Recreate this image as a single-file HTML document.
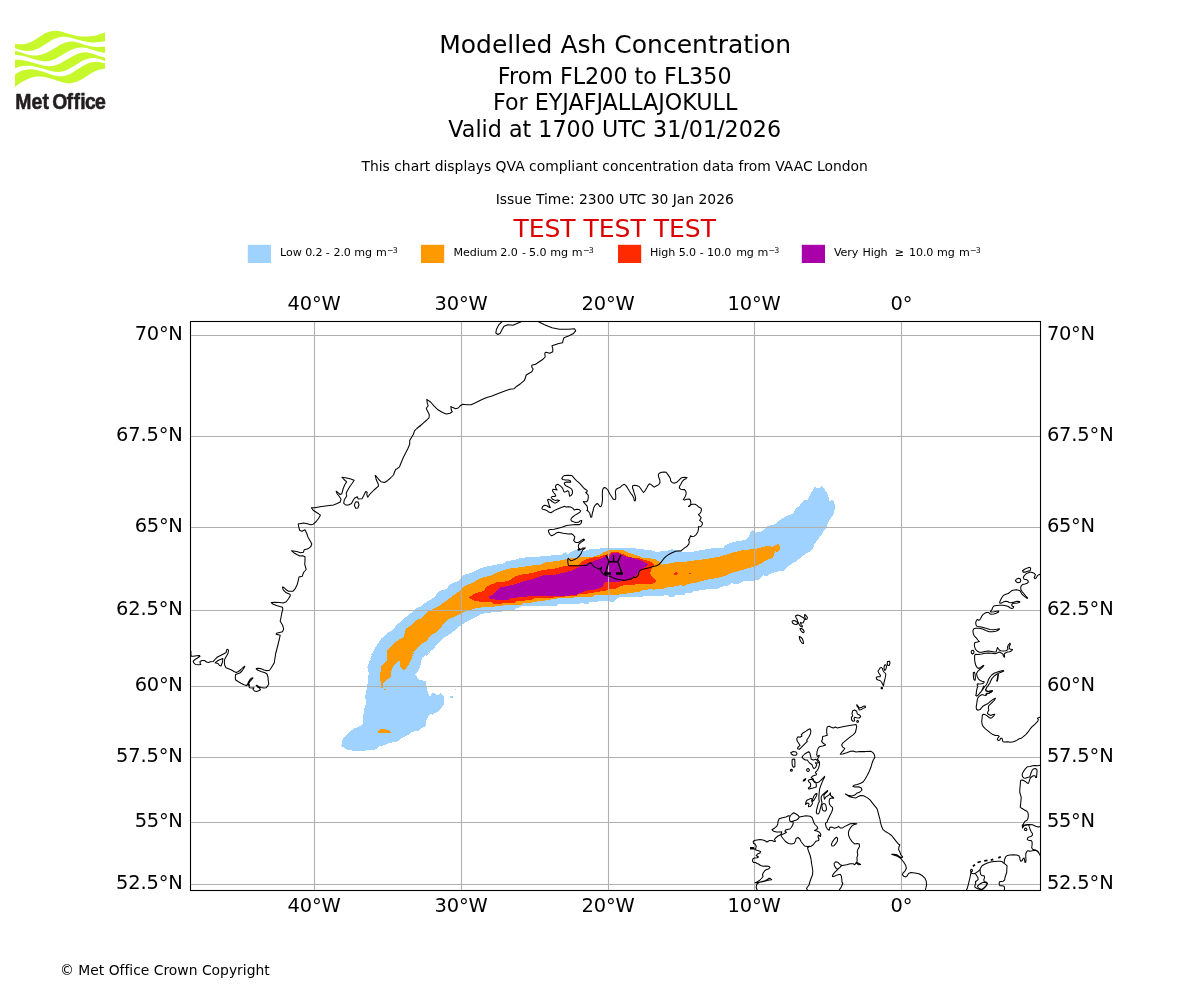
<!DOCTYPE html>
<html lang="en">
<head>
<meta charset="utf-8">
<title>Modelled Ash Concentration</title>
<style>
html,body{margin:0;padding:0;background:#fff;}
body{width:1200px;height:1000px;overflow:hidden;}
svg{display:block;}
text{font-family:"DejaVu Sans","Liberation Sans",sans-serif;fill:#000;font-variant-ligatures:none;}
.t18{font-size:25px;}
.t16{font-size:22.22px;}
.t10{font-size:13.89px;}
.t14{font-size:19.44px;letter-spacing:-0.17px;}
.t8{font-size:11.11px;letter-spacing:-0.12px;}
.sup{font-size:7.9px;letter-spacing:-0.9px;}
.grid line{stroke:#b0b0b0;stroke-width:1.1;}
.coast path{fill:none;stroke:#000;stroke-width:1.05;stroke-linejoin:round;stroke-linecap:butt;}
</style>
</head>
<body>
<svg width="1200" height="1000" viewBox="0 0 1200 1000">
<rect x="0" y="0" width="1200" height="1000" fill="#ffffff"/>
<g id="logo">
<path fill="#c6f82c" d="M15.00,44.00C16.67,44.00 22.00,44.50 25.00,44.00C28.00,43.50 30.50,42.25 33.00,41.00C35.50,39.75 37.67,37.92 40.00,36.50C42.33,35.08 44.50,33.45 47.00,32.50C49.50,31.55 52.67,30.97 55.00,30.80C57.33,30.63 58.67,30.97 61.00,31.50C63.33,32.03 66.33,33.25 69.00,34.00C71.67,34.75 74.33,35.58 77.00,36.00C79.67,36.42 82.33,36.50 85.00,36.50C87.67,36.50 90.50,36.38 93.00,36.00C95.50,35.62 98.00,34.78 100.00,34.20C102.00,33.62 104.17,32.78 105.00,32.50L105.00,41.30C104.00,41.42 101.00,41.80 99.00,42.00C97.00,42.20 95.33,42.58 93.00,42.50C90.67,42.42 87.67,42.00 85.00,41.50C82.33,41.00 79.50,40.17 77.00,39.50C74.50,38.83 72.17,37.95 70.00,37.50C67.83,37.05 66.00,36.80 64.00,36.80C62.00,36.80 60.00,36.97 58.00,37.50C56.00,38.03 54.17,38.83 52.00,40.00C49.83,41.17 47.33,43.08 45.00,44.50C42.67,45.92 40.17,47.50 38.00,48.50C35.83,49.50 34.17,50.12 32.00,50.50C29.83,50.88 27.17,50.97 25.00,50.80C22.83,50.63 20.67,49.97 19.00,49.50C17.33,49.03 15.67,48.25 15.00,48.00Z"/>
<path fill="#c6f82c" d="M15.00,50.80C16.00,51.08 19.00,51.88 21.00,52.50C23.00,53.12 24.83,54.00 27.00,54.50C29.17,55.00 31.83,55.42 34.00,55.50C36.17,55.58 37.83,55.50 40.00,55.00C42.17,54.50 44.50,53.67 47.00,52.50C49.50,51.33 52.50,49.42 55.00,48.00C57.50,46.58 59.67,45.03 62.00,44.00C64.33,42.97 66.83,42.17 69.00,41.80C71.17,41.43 72.83,41.43 75.00,41.80C77.17,42.17 79.50,43.27 82.00,44.00C84.50,44.73 87.50,45.70 90.00,46.20C92.50,46.70 94.50,46.90 97.00,47.00C99.50,47.10 103.67,46.83 105.00,46.80L105.00,53.00C104.00,52.80 101.00,52.30 99.00,51.80C97.00,51.30 95.00,50.63 93.00,50.00C91.00,49.37 89.00,48.42 87.00,48.00C85.00,47.58 83.00,47.42 81.00,47.50C79.00,47.58 77.00,47.92 75.00,48.50C73.00,49.08 71.17,49.92 69.00,51.00C66.83,52.08 64.33,53.67 62.00,55.00C59.67,56.33 57.17,58.00 55.00,59.00C52.83,60.00 51.00,60.63 49.00,61.00C47.00,61.37 45.00,61.37 43.00,61.20C41.00,61.03 39.17,60.53 37.00,60.00C34.83,59.47 32.33,58.70 30.00,58.00C27.67,57.30 25.50,56.30 23.00,55.80C20.50,55.30 16.33,55.13 15.00,55.00Z"/>
<path fill="#c6f82c" d="M15.00,59.80C16.00,59.83 19.00,59.80 21.00,60.00C23.00,60.20 24.83,60.50 27.00,61.00C29.17,61.50 31.67,62.33 34.00,63.00C36.33,63.67 38.67,64.47 41.00,65.00C43.33,65.53 45.83,66.07 48.00,66.20C50.17,66.33 52.00,66.25 54.00,65.80C56.00,65.35 57.83,64.55 60.00,63.50C62.17,62.45 64.67,60.83 67.00,59.50C69.33,58.17 71.83,56.58 74.00,55.50C76.17,54.42 78.00,53.55 80.00,53.00C82.00,52.45 84.00,52.12 86.00,52.20C88.00,52.28 89.83,52.87 92.00,53.50C94.17,54.13 96.83,55.33 99.00,56.00C101.17,56.67 104.00,57.25 105.00,57.50L105.00,61.00C104.17,60.70 101.67,59.70 100.00,59.20C98.33,58.70 96.67,58.17 95.00,58.00C93.33,57.83 91.83,57.87 90.00,58.20C88.17,58.53 86.00,59.12 84.00,60.00C82.00,60.88 80.17,62.20 78.00,63.50C75.83,64.80 73.17,66.58 71.00,67.80C68.83,69.02 67.00,70.10 65.00,70.80C63.00,71.50 61.00,71.88 59.00,72.00C57.00,72.12 55.00,71.83 53.00,71.50C51.00,71.17 49.17,70.62 47.00,70.00C44.83,69.38 42.33,68.43 40.00,67.80C37.67,67.17 35.33,66.53 33.00,66.20C30.67,65.87 28.17,65.75 26.00,65.80C23.83,65.85 21.83,66.05 20.00,66.50C18.17,66.95 15.83,68.17 15.00,68.50Z"/>
<path fill="#c6f82c" d="M15.00,74.50C15.83,74.00 18.33,72.25 20.00,71.50C21.67,70.75 23.17,70.37 25.00,70.00C26.83,69.63 29.00,69.30 31.00,69.30C33.00,69.30 34.83,69.55 37.00,70.00C39.17,70.45 41.67,71.25 44.00,72.00C46.33,72.75 48.83,73.83 51.00,74.50C53.17,75.17 55.00,75.72 57.00,76.00C59.00,76.28 61.00,76.45 63.00,76.20C65.00,75.95 67.00,75.37 69.00,74.50C71.00,73.63 72.83,72.33 75.00,71.00C77.17,69.67 79.67,67.83 82.00,66.50C84.33,65.17 86.83,63.75 89.00,63.00C91.17,62.25 93.17,62.13 95.00,62.00C96.83,61.87 98.33,62.03 100.00,62.20C101.67,62.37 104.17,62.87 105.00,63.00L105.00,68.80C104.17,68.92 101.67,69.10 100.00,69.50C98.33,69.90 96.67,70.45 95.00,71.20C93.33,71.95 91.83,72.87 90.00,74.00C88.17,75.13 86.00,76.80 84.00,78.00C82.00,79.20 80.00,80.37 78.00,81.20C76.00,82.03 74.00,82.70 72.00,83.00C70.00,83.30 68.00,83.25 66.00,83.00C64.00,82.75 62.17,82.13 60.00,81.50C57.83,80.87 55.33,79.92 53.00,79.20C50.67,78.48 48.17,77.65 46.00,77.20C43.83,76.75 42.00,76.53 40.00,76.50C38.00,76.47 36.00,76.58 34.00,77.00C32.00,77.42 30.00,78.17 28.00,79.00C26.00,79.83 23.67,81.08 22.00,82.00C20.33,82.92 19.17,83.67 18.00,84.50C16.83,85.33 15.50,86.58 15.00,87.00Z"/>
<text transform="translate(0.0,108.75) scale(0.9,1)" x="16.89 35.05 47.13 55.13 58.17 73.98 81.64 89.12 94.55 105.50" y="0" style="font-family:'Liberation Sans','DejaVu Sans',sans-serif;font-weight:bold;font-size:21.6px;fill:#231f20;stroke:#231f20;stroke-width:0.55px;stroke-linejoin:round">Met Office</text>
</g>
<g text-anchor="middle">
<text class="t18" x="615.2" y="53.3">Modelled Ash Concentration</text>
<text class="t16" x="614.7" y="83.8">From FL200 to FL350</text>
<text class="t16" x="615.1" y="110">For EYJAFJALLAJOKULL</text>
<text class="t16" x="614.7" y="136.6">Valid at 1700 UTC 31/01/2026</text>
<text class="t10" x="614.7" y="170.9">This chart displays QVA compliant concentration data from VAAC London</text>
<text class="t10" x="614.75" y="204">Issue Time: 2300 UTC 30 Jan 2026</text>
<text class="t18" x="614.65" y="236.8" style="fill:#dc0000">TEST TEST TEST</text>
</g>
<g>
<rect x="247.8" y="244.8" width="23.2" height="18.2" fill="#a0d2ff"/>
<text class="t8" style="white-space:pre"><tspan x="280.1" y="256.2">Low </tspan><tspan x="305.16" y="256.2">0.2 </tspan><tspan x="325.71" y="256.2">- </tspan><tspan x="333.5" y="256.2">2.0 </tspan><tspan x="354.25" y="256.2">mg </tspan><tspan x="375.96" y="256.2">m</tspan><tspan class="sup" x="387.0" y="252.9">−3</tspan></text>
<rect x="421.0" y="244.8" width="23.2" height="18.2" fill="#ff9900"/>
<text class="t8" style="white-space:pre"><tspan x="453.6" y="256.2">Medium </tspan><tspan x="500.36" y="256.2">2.0 </tspan><tspan x="521.96" y="256.2">- </tspan><tspan x="529.1" y="256.2">5.0 </tspan><tspan x="550.3" y="256.2">mg </tspan><tspan x="571.7" y="256.2">m</tspan><tspan class="sup" x="583.1" y="252.9">−3</tspan></text>
<rect x="618.0" y="244.8" width="23.2" height="18.2" fill="#ff2a00"/>
<text class="t8" style="white-space:pre"><tspan x="650.1" y="256.2">High </tspan><tspan x="678.67" y="256.2">5.0 </tspan><tspan x="699.87" y="256.2">- </tspan><tspan x="707.01" y="256.2">10.0 </tspan><tspan x="736.18" y="256.2">mg </tspan><tspan x="757.58" y="256.2">m</tspan><tspan class="sup" x="768.6" y="252.9">−3</tspan></text>
<rect x="801.8" y="244.8" width="23.2" height="18.2" fill="#aa00aa"/>
<text class="t8" style="white-space:pre"><tspan x="834.0" y="256.2">Very </tspan><tspan x="862.45" y="256.2">High </tspan><tspan x="894.81" y="256.2">≥ </tspan><tspan x="909.05" y="256.2">10.0 </tspan><tspan x="937.12" y="256.2">mg </tspan><tspan x="958.93" y="256.2">m</tspan><tspan class="sup" x="970.1" y="252.9">−3</tspan></text>
</g>
<defs><clipPath id="mapclip"><rect x="190.5" y="321.5" width="850.0" height="569.0"/></clipPath></defs>
<g clip-path="url(#mapclip)">
<g shape-rendering="crispEdges">
<path fill="#a0d2ff" d="M370.4,660.0 372.4,653.3 374.7,648.7 378.0,643.3 381.3,638.7 384.9,635.3 388.7,632.0 392.0,630.4 395.3,626.7 399.3,622.7 404.0,618.7 408.7,614.7 412.7,612.0 415.3,608.7 422.0,606.0 425.3,602.7 430.0,600.0 435.3,596.7 436.7,594.0 440.7,590.4 446.0,589.3 450.0,584.7 454.0,582.4 458.7,581.1 462.0,577.3 463.3,574.9 470.0,573.3 475.3,570.9 480.7,568.0 486.0,566.7 490.0,566.0 494.7,564.9 504.0,563.3 506.0,561.3 514.7,560.0 520.0,558.3 526.7,557.3 537.3,556.7 546.7,556.0 554.7,555.1 561.3,554.7 565.3,552.0 568.0,554.0 572.0,551.3 576.0,549.7 582.5,550.8 587.5,550.4 590.0,549.2 599.2,548.8 600.8,547.9 635.0,548.1 636.7,549.2 643.3,549.3 645.0,550.4 651.7,550.4 653.3,551.2 656.7,551.7 658.3,552.5 660.8,551.2 667.5,550.8 670.0,549.6 672.5,549.2 674.2,550.0 680.0,550.4 681.3,552.0 690.7,552.0 706.0,549.3 712.7,548.3 723.3,548.0 725.3,545.3 732.7,542.0 740.7,540.7 746.0,540.0 748.7,536.7 750.7,532.0 752.7,529.3 754.7,532.7 762.0,531.3 764.0,529.3 766.0,526.7 775.3,524.0 778.0,521.3 782.0,518.7 788.7,515.3 793.3,513.3 795.3,509.3 799.3,506.0 803.3,500.7 808.0,499.7 810.0,494.7 812.7,490.7 814.7,486.9 818.0,488.7 822.0,486.0 824.7,489.3 827.3,493.3 828.7,497.3 829.3,500.7 833.3,500.3 834.7,504.0 834.7,509.3 833.3,514.7 830.0,519.3 827.3,524.7 826.0,528.0 823.3,531.3 821.3,535.3 818.0,539.3 814.7,544.0 813.3,547.3 811.3,550.7 807.3,552.7 803.3,555.3 799.3,558.7 796.7,561.3 791.3,564.0 787.3,567.3 783.3,570.7 775.3,572.0 770.0,574.0 767.3,576.7 763.3,575.3 759.3,579.3 754.0,580.7 743.3,581.1 738.0,584.0 731.3,583.3 728.7,585.3 722.0,586.7 718.0,588.7 707.3,589.3 693.3,591.3 692.0,592.7 685.3,593.3 684.0,595.3 680.0,595.0 675.0,595.4 674.2,596.7 669.2,596.7 668.3,595.4 664.2,595.4 663.3,596.2 643.3,596.2 641.7,597.3 619.2,597.5 616.7,598.3 613.8,601.7 610.8,601.7 607.5,600.7 599.2,600.8 596.7,602.3 589.2,602.5 588.3,603.8 585.8,603.8 582.5,603.3 580.0,603.0 579.0,604.0 558.0,604.5 557.0,605.5 522.0,605.8 521.0,607.0 516.0,608.5 515.0,609.8 509.0,610.0 508.0,611.0 502.0,611.2 501.0,612.2 491.0,612.5 490.0,612.7 484.7,613.3 480.7,614.4 475.3,617.3 470.0,620.0 464.7,622.7 460.0,626.0 455.3,630.0 451.3,633.3 447.3,635.7 443.3,638.0 439.3,642.0 435.3,646.7 431.3,651.3 426.7,653.3 426.0,656.0 422.0,660.0 432.0,650.0 428.7,652.0 426.0,654.0 423.3,657.3 421.3,660.0 420.9,663.3 419.3,668.7 417.3,672.0 414.9,674.7 416.7,676.7 418.7,679.6 422.7,680.4 426.0,681.3 426.7,688.7 428.0,692.0 428.7,695.3 430.7,696.0 432.0,693.3 434.0,692.9 436.0,694.7 438.7,695.1 440.7,692.9 442.0,694.0 444.0,696.7 443.6,704.7 441.3,708.0 438.7,711.3 435.3,712.9 432.7,714.7 430.0,714.0 428.0,717.3 426.3,720.7 425.7,726.0 422.0,728.0 419.3,730.4 415.3,731.1 411.3,732.4 408.7,734.7 404.7,736.9 400.7,738.7 398.0,741.3 393.3,742.3 388.7,743.3 384.7,745.3 379.3,746.0 376.0,749.3 370.0,750.3 362.0,750.7 353.3,750.7 347.3,749.7 344.7,748.0 341.3,746.3 342.0,743.3 342.7,739.1 346.0,735.3 350.7,731.1 354.0,728.7 357.3,727.3 360.7,726.0 363.1,722.7 363.3,715.3 364.4,708.7 366.0,703.3 365.3,696.7 366.7,688.7 368.0,680.7 368.7,672.7 367.3,667.3 368.7,663.3 370.0,659.3 372.0,652.7 372.7,650.0ZM450.0,696.0 452.9,696.0 452.9,697.7 450.0,697.7ZM454.9,688.9 456.0,688.9 456.0,690.0 454.9,690.0Z"/>
<path fill="#ff9900" d="M387.1,660.0 387.3,650.0 391.3,646.0 396.7,641.1 403.3,637.3 404.4,634.0 406.0,628.7 410.0,626.0 414.0,622.0 417.3,619.7 422.0,618.0 424.0,615.3 428.7,611.3 432.7,609.3 438.0,606.7 443.3,602.7 447.3,600.0 452.7,596.0 458.0,592.0 462.0,588.0 466.0,585.3 472.7,582.9 478.0,579.3 483.3,577.3 490.0,576.0 496.0,572.7 502.7,570.7 508.0,568.7 520.0,567.3 529.3,565.7 540.0,564.9 544.0,562.7 554.7,561.3 562.7,560.0 568.0,558.7 583.3,557.1 592.5,557.1 595.0,555.8 599.2,555.0 604.2,552.1 607.5,550.8 611.7,550.0 622.5,550.0 625.0,551.2 629.2,552.9 633.3,554.3 638.3,555.8 641.7,557.5 648.3,557.7 651.7,558.8 655.0,559.2 658.3,561.2 660.0,562.9 662.1,564.6 666.7,564.2 671.7,562.9 676.7,562.1 680.0,561.7 681.3,562.4 689.3,561.1 703.3,559.3 716.7,557.3 726.0,554.7 732.7,552.7 743.3,550.0 754.0,549.1 762.0,547.3 767.3,546.0 772.7,546.7 776.7,544.7 778.7,544.0 780.0,546.7 779.6,550.0 778.0,552.0 775.3,551.3 774.0,554.7 773.3,557.3 768.7,559.3 764.7,561.3 759.3,564.3 754.0,566.7 743.3,569.6 735.3,572.0 730.0,573.3 727.3,575.3 716.7,578.0 708.7,579.3 703.3,580.7 696.0,582.7 688.0,584.0 684.0,586.0 680.0,585.0 677.5,586.2 667.5,587.1 666.7,588.3 660.0,588.8 653.3,589.8 651.7,589.2 642.5,590.0 640.0,591.7 635.0,592.1 632.5,593.3 620.0,593.8 619.2,594.6 607.5,594.8 595.0,595.0 593.3,596.7 582.5,596.7 578.0,597.2 570.0,597.9 563.0,598.2 557.0,598.5 550.0,599.7 545.0,600.2 544.0,601.2 533.0,601.7 532.0,602.7 523.0,603.2 522.0,604.7 504.0,605.2 503.0,605.7 490.0,607.1 483.3,607.3 476.7,608.0 471.3,609.6 466.0,611.3 462.0,612.7 456.7,616.0 451.3,618.0 447.3,620.0 443.3,624.0 440.7,628.0 436.7,632.0 431.3,634.7 429.3,637.3 426.0,641.6 421.3,644.0 418.0,647.3 414.0,651.3 412.0,655.3 411.1,660.0 414.9,650.0 412.9,654.0 411.6,658.0 410.0,662.7 406.7,667.3 404.3,670.0 402.0,668.9 400.3,667.3 400.0,661.7 398.7,660.9 396.4,663.3 393.3,666.7 391.6,670.0 391.1,676.0 388.7,678.7 386.0,680.4 383.1,683.3 382.8,688.0 381.2,688.0 381.2,683.3 380.1,679.3 380.4,672.7 381.3,666.3 385.3,662.7 387.1,660.7 387.3,650.0ZM378.0,732.7 378.3,731.3 380.7,729.3 385.3,729.1 387.3,730.0 390.0,730.7 391.1,732.7ZM384.0,688.9 386.0,688.9 386.0,690.0 384.0,690.0Z"/>
<path fill="#ff2a00" d="M468.7,597.6 472.7,594.7 476.7,592.7 483.3,591.3 487.3,586.0 490.7,584.7 497.3,582.0 508.0,581.3 512.0,578.7 516.0,576.0 522.7,574.3 530.7,573.3 542.7,570.0 554.7,568.7 565.3,566.0 578.7,564.7 584.2,560.0 592.5,557.5 599.2,556.8 605.0,555.0 609.2,553.8 611.7,552.1 616.7,551.7 620.0,552.9 624.2,554.6 626.7,556.2 631.7,557.5 638.3,557.9 643.3,559.6 649.2,561.2 652.5,562.9 654.6,564.6 652.5,567.5 650.8,570.8 650.0,573.8 652.5,576.7 655.0,579.2 656.7,580.8 655.0,582.9 652.5,583.8 638.3,583.8 633.3,585.0 623.3,585.4 620.0,586.2 617.5,588.3 608.3,589.6 605.0,591.2 596.7,591.7 593.3,592.9 585.0,593.8 578.0,594.5 577.0,595.5 569.0,596.2 557.0,597.2 550.0,598.0 534.0,598.5 532.0,599.8 525.0,600.0 524.0,601.2 516.0,601.5 515.0,602.5 503.0,603.0 502.0,603.5 493.0,603.5 492.0,602.0 479.3,601.6 473.3,600.3ZM674.2,573.8 674.7,572.5 675.8,572.0 677.1,572.5 677.7,573.8 677.1,575.0 675.8,575.5 674.7,575.0ZM689.0,573.0 691.0,573.0 691.0,574.0 689.0,574.0Z"/>
<path fill="#aa00aa" d="M488.3,597.3 493.3,594.0 496.7,590.7 500.0,587.6 513.3,584.7 524.0,581.3 536.0,578.0 544.0,575.3 554.7,574.7 565.3,572.4 573.3,570.0 585.0,564.2 588.3,562.9 592.5,561.7 596.7,560.0 600.0,558.8 604.2,557.1 605.8,555.8 609.2,556.2 610.8,554.6 613.3,552.9 616.7,552.5 619.2,553.8 621.7,555.0 625.0,556.2 628.3,557.1 633.3,557.9 638.3,559.6 642.5,561.2 645.8,562.9 647.9,564.3 646.7,566.0 643.3,567.9 640.0,570.0 638.3,573.3 636.7,575.4 633.3,576.7 630.8,578.3 627.5,580.4 623.3,580.8 619.2,581.7 605.8,581.8 604.2,583.8 602.5,586.7 599.2,588.3 595.0,589.6 587.5,590.4 583.3,591.7 576.0,595.0 569.0,595.6 550.0,596.2 527.0,596.2 526.0,597.0 517.0,597.2 516.0,598.2 510.0,598.5 509.0,599.5 495.0,599.5 491.0,599.0Z"/>
</g>
<g class="grid">
<line x1="314.5" y1="321.5" x2="314.5" y2="890.5"/>
<line x1="461.5" y1="321.5" x2="461.5" y2="890.5"/>
<line x1="608.5" y1="321.5" x2="608.5" y2="890.5"/>
<line x1="754.5" y1="321.5" x2="754.5" y2="890.5"/>
<line x1="901.5" y1="321.5" x2="901.5" y2="890.5"/>
<line x1="190.5" y1="335.5" x2="1040.5" y2="335.5"/>
<line x1="190.5" y1="436.5" x2="1040.5" y2="436.5"/>
<line x1="190.5" y1="527.5" x2="1040.5" y2="527.5"/>
<line x1="190.5" y1="610.5" x2="1040.5" y2="610.5"/>
<line x1="190.5" y1="686.5" x2="1040.5" y2="686.5"/>
<line x1="190.5" y1="757.5" x2="1040.5" y2="757.5"/>
<line x1="190.5" y1="822.5" x2="1040.5" y2="822.5"/>
<line x1="190.5" y1="884.5" x2="1040.5" y2="884.5"/>
</g>
<g class="coast">
<path d="M574.2,539.6 574.8,536.8 573.3,535.0 571.7,533.8 568.3,534.0 563.3,533.3 558.3,532.3 555.8,533.3 553.8,534.8 551.7,535.8 550.0,534.6 548.8,532.5 548.3,530.4 550.0,529.6 554.2,529.2 558.3,528.2 562.5,527.1 566.7,525.4 570.8,525.0 575.8,524.6 579.2,524.6 580.8,523.8 581.5,522.1 581.7,520.4 580.0,521.0 578.3,522.3 575.8,522.5 573.3,521.7 571.2,520.7 570.8,519.2 572.1,517.5 574.6,515.4 577.5,513.8 580.0,512.1 580.7,510.8 579.2,509.6 576.7,509.2 574.2,510.0 572.9,508.3 570.8,507.1 568.3,506.7 566.2,507.1 564.6,506.2 562.5,507.1 560.0,507.9 557.1,509.2 554.6,510.4 552.5,511.7 550.8,512.7 548.8,512.1 546.7,510.4 544.2,509.6 542.5,509.2 541.8,508.3 542.9,506.2 544.6,505.2 546.2,505.4 547.5,506.2 549.6,507.5 550.4,507.7 549.3,505.8 548.8,503.8 548.2,501.7 547.5,500.0 548.3,499.2 550.4,500.0 552.1,501.5 554.2,502.9 555.8,502.9 557.9,501.7 559.6,500.4 557.5,500.0 555.0,500.4 552.5,499.2 551.2,497.5 552.1,496.5 554.2,496.5 555.8,496.0 555.0,494.2 553.5,492.5 552.5,490.8 552.9,489.3 555.0,489.6 557.1,490.0 556.0,488.3 555.4,486.7 556.2,485.0 557.7,484.3 559.6,485.4 561.7,487.1 562.9,488.8 563.5,490.8 564.2,492.1 565.8,491.7 567.5,490.7 568.8,491.7 569.2,493.8 569.6,496.2 571.2,495.4 572.3,493.8 572.5,491.2 571.7,489.2 570.0,487.9 567.9,486.8 565.8,485.7 564.6,484.3 564.3,482.9 565.8,482.1 568.3,482.1 570.8,482.1 570.4,480.8 568.3,480.0 565.4,480.0 562.9,479.6 561.7,478.5 562.9,476.7 564.6,475.4 567.9,475.2 571.7,475.4 573.3,477.1 575.0,479.2 576.7,480.8 578.3,482.1 580.4,484.2 582.5,486.7 584.6,488.8 587.1,490.4 587.1,491.7 585.7,492.5 587.1,493.8 588.3,495.4 588.3,497.9 587.7,500.4 586.8,501.7 585.0,501.7 583.3,501.5 584.2,502.9 585.8,504.6 587.1,506.2 587.5,507.9 587.5,510.0 586.7,510.4 588.3,511.2 589.8,513.3 590.4,515.8 590.8,517.3 591.7,517.1 592.1,514.6 592.5,512.5 593.3,510.0 593.8,507.5 595.0,505.4 597.1,503.5 598.3,504.2 599.6,506.2 600.8,506.7 601.7,505.0 602.3,501.7 602.5,498.3 602.3,494.2 602.5,490.4 603.3,488.3 604.6,487.5 606.2,488.3 607.9,490.0 608.8,492.1 610.0,494.2 611.7,496.7 613.3,499.2 615.0,499.6 615.8,498.3 615.7,495.0 615.4,491.7 616.2,489.2 617.9,488.2 620.0,487.5 622.1,485.4 624.3,484.3 625.8,485.4 627.5,487.9 629.2,490.8 630.8,493.3 632.5,495.4 633.8,497.9 634.2,500.4 635.0,501.0 635.7,499.2 635.4,496.7 634.3,493.3 633.3,490.0 632.5,487.5 632.7,485.7 634.6,485.2 637.1,485.7 639.2,486.5 640.8,488.8 642.5,491.2 643.5,492.5 645.0,490.8 646.7,487.9 648.3,485.0 649.6,483.8 651.2,484.6 652.9,486.2 654.2,487.1 656.2,486.0 658.8,484.6 660.0,482.5 659.8,480.0 658.8,477.5 658.3,475.0 659.2,473.3 661.7,472.3 664.2,472.1 666.2,472.3 667.9,474.6 669.6,477.1 670.4,478.8 670.7,480.8 672.1,482.5 674.2,483.3 676.7,482.3 678.8,480.4 680.8,478.3 682.5,477.5 685.0,477.3 687.1,477.7 685.8,478.8 683.8,479.8 682.1,481.7 680.8,484.2 679.6,486.2 679.3,487.9 680.8,489.3 682.9,489.6 684.6,489.6 685.8,491.2 686.2,493.8 685.4,496.2 684.2,498.3 683.3,499.6 684.6,500.0 686.7,499.3 689.2,499.0 690.4,500.0 690.8,502.1 690.7,504.6 689.6,506.2 688.5,506.5 690.4,504.8 692.5,504.2 695.0,504.3 697.1,505.4 698.8,507.1 700.7,507.9 701.5,509.2 701.0,511.7 700.0,513.3 698.5,514.6 699.6,515.8 701.2,517.5 700.4,519.2 699.6,520.4 701.2,521.7 702.5,522.9 702.1,525.0 700.8,526.5 698.3,526.8 698.5,528.8 697.9,531.7 696.2,534.6 694.2,536.2 691.7,536.5 690.4,535.8 690.0,537.5 689.2,539.2 688.5,539.6 689.3,541.8 688.8,544.2 687.1,546.2 684.6,547.9 682.5,549.6 680.8,551.0 678.3,551.0 675.8,551.2 672.5,552.5 669.2,554.2 665.8,556.7 663.3,559.2 661.2,562.1 659.2,564.2 656.7,565.7 653.3,566.5 649.2,567.7 645.0,568.8 641.7,569.6 639.6,570.8 638.8,572.5 638.5,574.6 637.5,576.2 635.8,577.3 634.6,577.5 633.8,576.7 632.9,577.9 630.8,579.3 630.0,579.0 626.7,580.0 623.3,580.2 620.0,579.8 616.7,579.0 613.3,577.9 610.0,576.2 606.7,575.7 604.2,574.8 602.5,573.3 601.2,571.7 600.8,569.6 601.7,567.5 600.4,568.3 599.2,569.2 596.7,567.9 594.2,566.7 592.5,565.4 591.7,563.5 590.4,562.7 588.8,563.3 587.1,565.2 583.3,565.4 578.3,565.7 572.5,565.8 569.2,565.8 568.3,565.0 567.9,562.5 567.7,559.6 568.3,558.3 569.6,559.6 570.8,560.8 572.5,560.4 575.0,559.2 577.5,557.9 579.2,556.2 580.8,554.2 581.7,552.1 582.5,550.0 584.2,548.8 585.4,547.9 582.9,547.9 580.8,549.6 578.3,550.2 577.9,549.6 580.0,548.8 578.8,548.3 578.3,546.7 578.8,544.2 580.4,542.9 582.5,541.2 584.6,539.8 583.8,539.0 581.2,540.4 579.6,541.8 578.3,542.5 576.2,542.5 574.6,541.7 573.5,540.0Z" />
<path d="M827.3,726.7 829.3,726.3 831.3,727.3 833.3,728.0 835.3,727.1 837.3,728.0 842.7,726.7 848.0,725.7 852.7,724.9 856.0,724.4 856.7,726.7 856.0,730.0 855.3,732.7 852.7,735.1 849.3,737.7 846.0,740.4 842.7,743.1 841.6,744.9 842.7,747.1 844.7,748.4 843.3,750.7 841.3,752.7 840.3,754.3 842.7,754.0 846.7,752.7 850.7,751.3 853.1,751.1 856.0,752.0 860.0,751.6 865.3,751.6 870.7,751.3 872.7,752.4 874.4,754.7 874.9,757.3 873.3,760.0 872.0,763.3 870.9,767.3 869.3,771.3 867.3,775.3 865.3,778.7 863.3,781.7 860.7,783.3 857.3,784.4 854.0,785.3 852.7,786.3 854.7,787.1 858.7,786.7 861.3,788.0 862.0,790.0 860.0,792.0 856.7,793.3 854.7,795.1 852.0,796.0 848.0,795.3 845.3,794.0 845.5,794.1 849.0,796.4 852.5,797.6 856.0,797.9 858.3,796.4 860.7,795.5 863.6,795.8 867.1,797.6 870.0,799.9 872.3,802.8 874.7,805.8 877.0,808.7 877.9,811.6 878.8,815.1 879.9,819.2 880.5,822.7 881.7,826.8 883.1,829.7 885.8,831.8 888.7,833.4 891.6,835.5 893.9,838.4 896.2,841.3 898.6,844.2 899.8,844.8 898.9,847.2 898.6,849.5 899.8,851.8 900.9,854.8 902.7,857.1 901.5,857.7 899.2,856.5 896.8,854.8 893.9,854.2 891.6,854.2 894.5,855.3 897.4,856.3 899.8,857.7 902.1,860.0 903.8,862.3 905.6,865.2 906.4,868.2 905.0,871.1 903.2,872.8 902.4,874.6 903.8,876.3 905.6,876.9 907.3,875.8 908.5,873.4 910.8,872.6 914.9,873.1 919.0,873.8 922.5,875.8 924.8,878.1 926.2,881.0 926.6,884.5 926.0,887.4 925.4,890.0" />
<path d="M827.3,726.7 826.7,729.3 826.7,732.7 827.3,735.3 824.7,736.0 822.7,736.4 822.4,739.3 821.6,741.3 823.3,743.3 825.6,744.9 822.7,746.0 819.3,746.7 818.0,748.7 817.1,751.3 816.7,754.7 817.3,756.4 819.3,755.3 818.7,757.3 817.3,759.3 818.1,760.0 819.3,761.8 819.6,764.2 819.0,766.6 818.1,769.0 816.9,770.8 815.4,772.3 815.7,773.2 816.6,773.9 816.0,775.0 814.2,775.6 812.4,776.3 811.2,777.3 812.1,778.3 813.3,778.9 813.6,780.1 814.2,781.3 815.7,782.2 817.5,782.5 819.0,781.9 820.5,780.7 822.0,779.2 823.5,777.7 824.7,776.3 824.3,777.7 823.2,779.8 822.3,781.9 821.4,784.0 820.5,786.4 819.6,789.1 819.3,791.8 819.0,794.8 818.9,797.8 819.0,800.2 819.3,801.7 818.4,803.2 817.7,805.6 817.1,808.0 816.5,810.4 816.3,812.2 816.9,813.7 818.1,814.0 819.0,813.1 819.6,811.6 820.2,809.2 820.8,806.8 821.4,804.7 822.0,802.9 821.7,801.4 821.4,799.6 821.1,799.0 821.3,796.6 822.0,795.4 823.5,793.9 825.3,792.4 826.8,791.2 827.7,790.5 827.4,791.5 825.9,792.9 824.7,794.2 823.8,795.4 824.1,797.2 824.4,799.3 825.0,798.4 825.9,796.9 827.4,796.0 828.6,795.4 829.5,794.2 830.4,792.7 830.5,793.9 830.4,795.1 831.6,796.3 833.1,797.2 833.7,798.1 832.5,798.1 831.0,798.1 829.8,798.7 829.3,800.2 829.2,802.0 829.5,804.1 830.4,805.6 831.9,806.8 832.7,808.0 832.5,809.8 831.6,812.2 830.4,814.6 829.2,817.0 828.3,819.1 827.7,820.0 827.1,822.1 825.4,823.2 825.9,826.2 827.4,829.1 829.2,830.2 829.8,827.3 832.1,827.1 834.4,828.3 836.8,827.6 838.5,826.4 840.2,827.9 842.6,827.9 844.9,826.4 847.8,825.0 850.2,823.8 853.7,823.6 856.9,823.8 854.8,824.4 852.3,825.6 850.4,827.9 849.0,830.2 848.4,833.2 848.8,836.1 850.2,839.0 852.3,841.9 854.6,843.9 857.2,843.4 859.3,843.9 859.5,846.6 858.1,848.9 857.2,851.8 857.8,854.8 856.9,857.7 857.2,860.6 856.6,862.3 858.9,863.5 860.7,864.4 858.3,864.7 856.0,862.9 854.8,864.7 853.1,863.7 850.2,863.7 846.7,864.7 843.8,865.2 841.4,865.8 839.7,867.6 837.3,869.3 836.2,868.4 834.4,865.8 834.1,863.5 835.6,861.8 837.9,862.3 840.2,864.7 841.8,865.2 840.2,867.0 837.3,869.9 835.0,872.2 832.9,874.6 832.4,876.6 834.4,876.3 837.3,874.9 840.2,874.2 841.4,876.3 841.8,879.2 842.0,882.2 842.9,883.3 841.8,885.7 840.6,888.2 839.1,890.0" />
<path d="M1040.0,574.3 1038.3,575.0 1037.1,576.2 1036.2,577.9 1034.8,578.8 1034.2,577.5 1035.0,575.8 1035.4,574.6 1034.2,573.3 1032.1,572.5 1030.0,572.1 1027.9,572.9 1025.8,574.0 1024.2,575.8 1023.3,577.5 1024.2,579.2 1026.2,579.6 1027.9,580.4 1028.3,582.1 1027.1,583.3 1025.0,584.0 1022.5,584.6 1021.2,585.8 1020.7,587.9 1021.0,590.0 1022.5,592.1 1024.2,594.0 1025.8,596.0 1027.5,597.9 1027.3,598.5 1025.4,597.1 1023.3,595.4 1021.7,593.8 1020.7,592.1 1020.0,590.7 1016.7,589.8 1014.2,590.0 1012.1,590.4 1010.0,592.1 1008.3,593.5 1005.8,594.3 1003.8,595.2 1002.5,596.5 1001.2,598.8 1000.0,601.2 999.6,602.9 1000.8,603.3 1003.3,602.1 1005.4,601.2 1007.5,601.5 1009.2,602.5 1011.2,602.7 1014.2,602.1 1017.1,601.2 1019.6,601.5 1019.8,602.3 1017.5,602.9 1015.0,603.2 1012.9,603.3 1011.7,604.6 1012.1,606.0 1013.8,606.8 1013.3,607.9 1011.7,608.5 1010.0,607.7 1008.3,606.5 1005.8,605.7 1003.3,605.2 1000.0,605.2 996.7,605.4 993.8,606.0 992.7,607.5 992.1,609.2 991.2,610.4 990.4,611.7 991.7,612.1 994.2,611.7 996.7,611.2 998.8,611.0 998.3,612.3 996.2,613.2 993.8,614.0 991.2,614.3 989.8,613.8 988.8,612.5 986.7,612.5 984.6,613.3 982.9,614.6 981.7,616.2 980.8,618.2 979.8,619.8 978.8,620.4 977.5,619.3 976.5,620.4 975.7,622.5 976.0,625.0 977.1,626.5 980.0,626.8 983.3,627.5 986.7,628.5 990.0,629.6 993.3,629.8 996.7,629.3 999.6,628.8 998.3,630.2 995.8,631.2 992.5,631.8 989.2,631.7 985.8,630.4 982.5,629.0 979.2,628.2 975.8,628.2 973.8,628.8 972.9,630.8 973.2,633.3 974.2,635.8 976.2,637.9 977.9,640.0 979.3,641.5 977.5,642.1 975.0,642.5 974.3,644.2 974.6,646.7 975.4,649.2 977.1,651.0 979.2,652.3 981.7,652.3 985.0,651.5 988.3,651.0 991.7,651.5 994.2,652.1 996.2,651.7 996.8,649.6 997.5,647.5 998.3,648.8 999.2,650.0 1000.8,650.8 1003.3,651.0 1005.8,650.7 1007.9,649.6 1007.5,647.1 1008.3,645.0 1010.0,643.2 1010.4,644.2 1009.3,646.2 1009.2,648.3 1010.4,649.3 1012.5,649.6 1011.7,650.8 1009.6,651.7 1007.5,652.1 1005.4,652.9 1004.2,654.2 1004.6,656.2 1004.3,657.3 1003.3,655.8 1002.9,654.2 1001.2,652.9 999.2,652.1 997.1,652.9 995.0,653.8 991.7,653.3 988.3,652.9 985.0,653.2 981.7,654.0 978.3,654.6 975.4,654.3 974.6,655.8 974.6,659.2 975.0,662.5 975.8,665.4 977.1,667.5 978.8,668.5 980.8,667.1 982.5,665.8 983.8,665.4 982.9,666.8 981.2,668.3 979.2,670.0 977.5,671.7 976.5,673.8 977.1,676.2 978.3,678.8 980.0,680.4 982.1,681.2 984.2,681.7 983.8,682.9 981.7,683.8 979.2,684.0 977.5,683.8 977.1,685.0 977.9,686.2 977.1,688.3 976.5,690.8 976.2,693.3 976.5,693.3 975.7,695.4 976.7,696.2 978.3,695.0 980.0,692.9 981.7,690.8 982.9,688.3 983.8,685.8" />
<path d="M1040.4,765.2 1037.5,765.7 1035.0,765.4 1032.5,765.7 1030.0,766.5 1027.5,766.7 1025.8,768.3 1024.2,770.4 1022.9,772.5 1022.1,774.6 1022.5,776.7 1023.8,777.9 1025.4,778.3 1027.5,777.5 1029.6,777.1 1030.4,775.0 1031.2,772.5 1032.1,770.4 1033.3,769.0 1035.0,768.5 1036.7,769.2 1037.1,771.2 1036.8,773.8 1036.7,775.8 1036.5,777.5 1035.7,777.5 1035.0,775.8 1033.3,775.7 1032.1,776.5 1030.8,777.5 1029.8,779.2 1029.2,781.2 1028.5,783.3 1027.5,783.3 1026.2,782.1 1024.6,781.0 1022.5,780.0 1020.7,780.2 1020.4,782.5 1020.2,785.8 1019.8,789.2 1019.8,792.5 1020.4,794.6 1021.2,797.1 1021.0,800.0 1020.7,803.3 1020.2,807.1 1021.7,808.3 1024.2,809.8 1026.7,811.2 1027.9,812.5 1028.3,815.0 1028.2,817.5 1027.5,819.6 1026.2,820.8 1025.0,821.2 1024.2,822.5 1023.3,824.2 1022.9,826.2 1022.3,825.0 1022.5,827.9 1023.8,826.2 1025.0,825.0 1027.1,824.6 1028.8,825.0 1029.2,826.7 1030.0,829.2 1031.2,831.7 1032.5,833.8 1032.3,835.4 1030.8,836.5 1028.8,837.1 1027.5,837.9 1027.3,839.6 1028.8,840.4 1031.2,840.4 1032.1,842.1 1032.1,845.0 1031.7,847.5 1032.5,849.2 1034.6,849.8 1036.7,850.7 1038.3,852.1 1039.6,854.2 1040.4,855.8" />
<path d="M501.8,321.8 498.8,324.8 496.5,329.2 495.8,333.0 498.0,334.5 500.2,333.3 501.8,330.0 504.0,326.2 507.8,324.8 513.0,325.2 517.5,323.2 521.2,321.8" />
<path d="M538.5,321.8 544.5,324.8 552.0,327.8 559.5,329.2 568.5,329.2 574.5,328.8 575.7,330.8 573.0,333.8 568.5,336.0 564.0,337.8 563.2,339.8 562.5,342.8 558.8,343.5 554.2,345.0 552.0,345.8 552.8,348.8 552.8,351.8 549.8,353.2 546.0,352.2 544.8,353.2 545.2,357.0 543.0,359.2 538.5,362.2 535.5,364.2 531.8,365.2 531.8,367.2 533.2,369.0 531.8,371.7 528.8,373.5 526.2,375.0 525.3,378.0 524.2,380.7 520.5,383.7 516.8,386.2 513.8,388.8 510.0,389.2 505.5,390.8 499.5,393.0 492.0,396.0 486.8,397.5 481.5,399.8 475.5,402.8 471.0,404.7 466.5,404.7 462.8,404.2 460.2,405.8 458.2,408.0 455.7,408.8 452.2,407.2 450.8,406.5 451.2,409.5 452.2,411.8 450.0,413.2 446.2,414.0 442.5,412.5 438.0,409.8 434.2,406.2 430.5,402.0 426.8,399.3 427.2,402.8 428.2,405.8 426.3,408.3 427.5,411.0 429.3,414.8 429.0,417.8 426.8,420.0 423.8,422.7 420.0,426.0" />
<path d="M420.5,425.5 416.8,428.5 414.5,430.8 413.3,434.5 411.5,437.5 409.7,440.5 409.7,444.2 407.8,448.8 405.5,453.2 403.2,457.8 401.0,463.0 399.5,466.8 397.2,468.7 395.8,469.3 394.5,472.0 393.5,475.0 390.5,478.0 387.5,480.7 384.5,482.5 381.2,481.8 378.8,479.5 377.0,477.2 375.2,475.4 376.2,479.5 378.2,484.0 378.5,486.2 374.0,490.0 370.2,493.8 367.7,497.2 366.8,494.5 367.2,492.2 365.8,491.5 363.5,496.0 362.0,498.7 358.2,499.0 357.2,496.8 354.5,498.2 353.0,500.5 351.5,503.5 348.5,505.0 345.5,505.0 343.7,503.2 344.3,499.8 346.7,496.0 346.2,493.0 347.8,490.0 350.0,486.2 352.2,483.2 354.2,480.2 350.0,478.8 345.5,477.7 341.8,477.2 344.0,479.5 346.7,481.8 344.8,484.8 343.2,488.5 341.8,493.8 340.2,494.5 338.0,492.7 336.2,491.2 337.2,493.8 339.5,496.8 341.0,499.0 340.2,502.0 336.5,503.8 333.5,505.0 327.5,505.8 320.0,506.8 314.8,507.7 311.3,507.7 313.2,510.2 317.8,513.2 320.4,515.2 318.5,518.5 316.2,521.5 313.2,524.2 310.7,524.8 307.2,523.8 303.5,523.0 299.8,523.8 298.2,523.8" />
<path d="M354.8,503.5 356.0,501.7 358.2,502.0 359.0,505.0 357.8,508.0 355.7,508.3 354.5,505.8Z" />
<path d="M298.2,523.8 298.7,526.8 299.8,530.5 302.0,531.2 305.0,529.8 306.8,533.5 308.0,537.2 309.8,540.2 311.8,544.0 310.7,546.7 308.0,548.8 304.2,549.7 303.5,552.2 300.5,552.7 296.8,551.5 291.5,550.8 293.8,552.7 296.8,554.5 299.8,556.0 302.8,555.7 305.0,556.8 305.0,560.5 304.7,564.2 305.8,568.0 306.2,569.5 303.5,572.5 302.3,576.2 299.0,577.0 298.2,580.8 297.2,584.5 295.2,588.7 293.0,591.2 288.5,591.2 286.2,589.8 284.0,587.5 282.5,587.0 283.2,589.8 286.2,592.8 290.0,594.2 290.3,595.8 288.5,598.8 286.2,601.8 283.2,603.0 279.5,602.5 275.0,602.2 271.2,602.5 272.8,604.0 277.2,605.8 282.5,607.3 282.8,609.2 281.8,613.0 281.0,617.5 280.2,621.2 282.5,625.0 283.7,628.8 282.5,631.8 279.5,632.5 276.5,633.2 276.2,634.3 280.2,635.2 279.5,638.5 278.0,644.5 276.5,650.5 275.3,655.0" />
<path d="M275.5,655.0 274.8,659.0 274.3,662.8 272.5,665.8 270.5,669.0 269.5,670.3 267.0,670.8 264.0,670.0 260.5,668.5 257.5,668.2 256.2,668.8 257.5,670.0 261.0,671.5 265.0,672.8 267.0,674.0 268.0,677.0 268.3,681.0 268.8,684.0 267.5,686.2 266.0,687.8 264.0,688.0 261.0,687.5 259.0,686.8 257.0,685.5 256.2,685.2 257.5,687.0 259.5,688.0 260.5,689.8 258.5,690.8 256.5,691.5 254.5,691.0 253.0,689.5 254.0,687.8 252.0,688.0 250.0,687.8 249.0,686.8 249.5,684.8 248.0,685.2 249.0,683.0 250.5,680.8 252.2,679.0 253.0,678.0 252.0,677.8 250.0,679.5 248.5,682.0 247.5,684.5 246.2,685.5 244.0,684.8 241.0,683.2 238.0,681.5 235.5,679.8 235.3,677.0 235.5,674.5 237.0,674.0 239.8,673.0 242.0,671.0 244.0,668.0 244.8,666.2 243.0,667.5 241.0,669.5 238.5,671.5 236.2,672.5 234.0,671.5 231.5,670.0 228.5,668.8 226.0,667.8 224.8,665.5 224.3,662.0 224.8,659.0 226.5,656.0 228.0,653.5 228.5,650.5 227.8,649.3 226.5,650.0 226.2,652.5 223.5,654.0 220.5,655.5 217.5,657.0 215.5,658.8 214.0,660.8 213.0,661.5 210.5,661.8 208.5,662.5 206.5,662.0 204.5,660.5 202.0,660.5 200.0,661.5 200.2,663.5 200.8,664.5 198.5,664.8 195.5,664.5 193.8,662.8 193.2,661.2 195.0,659.5 197.5,658.0 200.0,656.2 199.5,655.5 196.5,655.8 193.5,656.2 191.2,656.2 190.8,653.5 191.0,651.0" />
<path d="M215.0,662.8 218.0,660.5 222.8,658.5 222.5,662.0 221.0,666.0 219.5,665.5 218.0,663.5Z" />
<path d="M795.5,616.0 797.5,615.0 799.5,615.5 801.5,616.8 803.5,617.8 804.5,619.0 804.0,621.0 803.2,622.8 801.5,623.0 800.5,622.5 801.0,624.5 802.5,626.0 802.2,627.0 800.5,626.2 799.5,625.0 798.5,623.0 797.5,621.0 797.0,619.0 796.0,617.5Z" />
<path d="M804.8,614.5 806.0,615.5 807.5,617.5 806.8,619.2 805.5,619.5 805.0,617.5 804.5,616.0Z" />
<path d="M792.0,621.5 793.0,620.5 795.0,620.8 797.0,622.0 797.8,623.5 796.5,624.5 794.5,624.2 792.8,623.2Z" />
<path d="M800.0,628.5 801.5,628.5 803.5,630.0 804.2,631.8 803.5,632.8 802.0,632.0 800.8,630.5Z" />
<path d="M799.2,636.5 800.5,637.0 802.2,638.5 803.2,641.0 803.5,643.5 802.2,643.2 800.8,641.5 799.8,639.5Z" />
<path d="M883.5,686.0 882.5,684.0 881.5,682.0 880.0,680.5 878.0,680.0 876.5,679.0 876.2,677.5 877.5,676.8 880.0,676.8 880.5,675.5 879.5,674.0 878.5,672.5 878.0,671.0 879.2,669.5 880.0,668.0 881.5,667.5 882.5,668.5 883.0,670.5 884.0,672.0 885.0,673.0 885.8,674.0 885.5,676.5 884.8,679.5 884.0,682.5Z" />
<path d="M887.5,661.5 889.5,661.2 890.0,663.0 889.2,665.5 887.8,665.5 887.2,663.5Z" />
<path d="M884.5,665.0 886.0,664.8 886.5,666.5 885.8,669.5 884.8,670.5 884.0,668.5 884.2,666.5Z" />
<path d="M881.2,687.6 882.4,687.6 882.4,688.8 881.2,688.8Z" style="fill:#000"/>
<path d="M852.7,710.7 854.7,710.0 856.7,711.3 857.3,714.0 859.7,715.1 860.7,716.7 859.3,718.0 856.7,717.7 854.7,717.3 854.0,718.7 854.7,720.7 853.1,721.3 851.7,720.0 851.3,717.3 852.7,716.0 852.0,713.3Z" />
<path d="M856.7,704.7 858.0,706.0 859.3,708.0 861.3,707.6 863.3,706.3 865.3,706.0 865.6,707.3 863.3,708.4 860.7,709.7 859.3,710.0 858.4,708.0 857.1,706.3Z" />
<path d="M856.8,720.9 857.6,720.4 858.4,720.9 858.4,722.0 857.6,722.4 856.8,722.0Z" />
<path d="M822.0,805.0 822.9,803.8 824.4,803.7 825.6,804.7 826.2,806.8 826.5,809.2 825.6,810.9 824.1,811.1 822.7,810.1 822.1,808.0 821.9,806.2Z" />
<path d="M808.2,780.7 809.7,779.5 811.8,779.2 812.7,779.8 813.3,781.0 814.5,782.2 816.0,782.8 816.3,784.6 816.3,787.0 814.8,787.6 813.0,788.1 810.9,788.5 809.1,789.1 808.3,788.2 809.1,787.3 810.5,786.7 810.7,784.6 810.3,783.1 809.1,782.2Z" />
<path d="M803.1,781.0 804.0,779.5 805.8,778.6 805.3,779.8 804.0,781.0Z" style="fill:#000"/>
<path d="M806.7,769.6 807.3,768.7 808.5,768.6 809.3,769.5 809.3,770.7 808.5,771.4 807.4,771.3 806.8,770.7Z" />
<path d="M813.0,798.4 813.9,796.0 815.1,794.5 816.3,793.5 817.1,793.7 816.6,795.4 815.7,797.2 814.5,799.3 813.3,800.8 812.4,801.4 811.9,800.5Z" />
<path d="M806.1,801.4 807.3,799.9 809.1,799.3 810.9,798.4 812.1,799.0 811.8,800.8 812.1,802.0 812.4,803.8 811.5,805.3 810.0,806.5 808.5,806.7 808.5,805.6 809.1,804.1 808.2,803.2 807.0,802.9 806.3,804.1 805.5,804.4 805.8,802.9Z" />
<path d="M802.7,756.0 804.7,754.0 806.7,752.7 808.7,751.6 810.0,753.3 810.7,756.7 811.3,759.3 813.3,760.0 816.0,759.3 817.3,760.7 818.7,762.7 817.3,763.1 815.3,762.7 816.7,764.7 815.7,767.3 814.0,768.7 812.7,766.7 812.0,764.7 810.0,763.3 808.7,762.0 807.3,760.0 805.3,760.0 803.3,758.7 802.0,757.3Z" />
<path d="M810.0,728.7 810.9,730.7 810.4,734.0 808.7,737.3 806.7,740.0 807.3,741.3 805.3,743.3 803.3,745.3 801.3,747.3 799.3,749.3 797.6,748.7 798.0,747.1 800.0,745.3 798.7,743.3 797.3,741.3 796.7,738.7 798.0,736.7 800.0,737.3 802.0,736.0 801.3,734.7 803.3,732.7 806.0,731.1 808.0,729.7Z" />
<path d="M790.7,752.7 793.3,751.6 796.0,752.0 797.1,753.7 796.0,755.3 793.3,755.3 791.7,754.3Z" />
<path d="M792.3,759.3 794.7,759.1 794.9,762.7 794.9,766.7 793.3,767.3 792.3,765.3 792.0,762.0Z" />
<path d="M790.5,769.7 791.3,769.2 792.3,769.7 792.3,770.8 791.3,771.3 790.5,770.8Z" />
<path d="M831.3,844.8 832.4,841.9 834.4,839.0 836.4,837.2 837.6,838.4 837.3,841.3 835.6,843.9 833.8,845.8 832.1,846.0Z" />
<path d="M807.5,890.0 806.5,888.5 807.5,887.0 809.0,885.0 810.0,881.5 811.2,878.0 812.5,875.0 812.8,871.0 812.2,867.0 811.5,863.0 811.0,859.0 810.0,855.0 808.5,851.0 807.5,847.8 809.0,846.8 811.0,846.2 813.0,845.0 814.5,843.0 816.0,841.2 818.5,840.5 819.0,839.0 818.0,837.0 818.5,835.0 820.5,836.5 820.8,834.5 819.5,832.2 817.0,831.0 814.5,830.5 816.0,829.8 817.8,828.5 817.0,826.5 815.0,824.5 813.8,822.5 813.0,820.0 812.0,817.5 810.0,816.2 806.0,815.8 802.0,816.5 799.2,817.0 798.2,815.5 796.0,814.0 793.8,812.7 792.0,814.0 790.0,816.0 788.3,815.8 786.0,817.0 782.5,817.8 779.2,818.8 778.0,821.5 777.8,824.0 776.8,826.2 774.5,828.2 772.0,829.8 773.5,831.2 776.5,832.0 780.0,832.0 781.8,831.8 781.0,834.5 778.0,836.0 775.5,838.0 774.5,839.5 775.5,841.2 774.0,841.5 772.0,840.5 769.5,840.5 767.0,842.0 765.5,841.0 763.0,840.0 760.0,839.5 757.0,840.0 754.5,840.5 753.2,841.5 753.5,843.5 755.0,844.0 756.2,846.0 755.8,848.5 754.5,849.0 756.0,850.0 758.5,850.8 760.5,851.5 760.0,853.0 757.5,854.0 756.2,855.5 758.5,857.0 757.0,857.8 754.5,858.0 752.8,859.0 752.5,861.0 753.5,862.5 755.5,862.5 757.0,863.5 758.5,864.0 760.5,865.5 763.0,866.2 766.0,866.0 768.5,866.2 770.0,867.5 768.5,869.0 766.5,869.5 765.0,870.5 763.5,872.5 762.5,874.5 763.0,876.5 761.5,878.5 759.5,880.5 757.0,882.0 755.0,882.8 758.0,882.5 761.0,882.0 764.0,881.5 767.0,880.5 769.5,880.0 771.8,879.8 770.5,878.5 769.0,878.2 767.5,879.5 765.0,880.8 762.0,881.5 759.0,882.5 757.0,884.0 756.5,885.5 756.2,887.5 757.0,889.5 757.5,890.5" />
<path d="M790.0,816.0 789.5,818.5 789.8,821.0 791.2,821.8 794.0,820.8 796.5,820.0 798.5,818.5 799.2,817.0" />
<path d="M791.2,821.8 793.0,821.5 793.2,823.5 792.5,825.5 791.2,827.5 789.8,829.0 787.5,829.5 785.5,830.0 785.0,831.5 786.5,832.2 784.5,833.5 782.0,834.5 781.0,835.0 781.5,836.5 783.0,838.5 785.5,841.5 788.5,843.5 791.5,844.0 794.0,843.5 795.5,841.0 796.0,838.5 798.0,837.5 799.8,839.0 801.0,841.5 803.0,844.0 804.5,846.0 807.5,846.5 810.0,846.2" />
<path d="M750.5,847.5 753.5,847.5 753.5,849.0 750.5,849.0Z" style="fill:#000"/>
<path d="M982.1,690.4 982.9,689.2 984.6,686.7 986.2,685.0 987.5,682.5 988.3,680.0 989.6,677.5 991.7,675.0 994.2,673.3 997.5,672.1 1000.8,671.0 1003.3,670.4 1003.8,671.0 1001.7,672.1 999.2,672.9 996.7,674.2 994.2,676.0 992.1,678.3 990.8,680.8 989.8,683.3 988.3,685.4 986.7,687.5 985.8,689.2 986.2,690.8 988.3,691.5 990.8,691.0 992.5,690.8 991.2,692.1 988.8,692.9 986.7,693.3 985.4,694.6" />
<path d="M998.3,674.2 997.9,676.7 997.5,679.2 996.8,681.5" style="stroke-width:1.6px"/>
<path d="M971.2,651.7 971.8,650.4 973.2,650.2 974.0,651.5 973.8,653.3 972.5,654.0 971.5,653.2Z" />
<path d="M973.3,672.5 974.6,672.3 975.2,675.0 975.4,678.3 975.0,680.4 974.0,679.6 973.5,677.5 973.3,674.2Z" />
<path d="M1022.5,570.8 1024.6,569.3 1027.5,567.9 1029.8,567.3 1030.7,568.3 1030.2,570.4 1027.9,571.2 1025.4,572.1 1023.3,572.1Z" />
<path d="M1015.4,580.4 1016.7,579.0 1018.8,578.3 1020.4,579.0 1020.8,580.8 1020.0,582.3 1017.9,582.7 1016.2,581.8Z" />
<path d="M985.4,689.2 986.0,690.8 987.9,691.5 990.4,691.0 992.5,690.7 991.2,692.1 989.2,693.3 987.1,693.8 986.0,695.4 984.2,695.2 982.1,694.6 980.4,695.4 978.8,696.7 977.7,698.3 977.1,700.8 976.7,703.8 976.2,706.7 976.5,709.2 977.9,710.2 980.0,709.6 981.5,707.9 982.9,706.2 985.0,705.0 987.5,703.8 989.6,702.1 991.7,700.4 993.8,699.0 995.4,698.3 994.6,700.0 992.5,702.1 990.4,704.2 988.8,705.7 988.3,707.9 988.8,710.0 987.9,711.7 987.5,713.3 988.8,714.6 990.8,715.4 992.9,714.6 994.8,714.3 993.8,715.8 992.1,717.3 990.8,718.3 989.2,717.5 987.1,715.8 985.0,714.6 983.3,714.2 982.3,715.4 982.1,718.3 981.7,721.2 982.1,724.2 983.3,726.7 985.4,728.8 987.9,730.8 990.4,732.9 992.9,734.6 995.4,735.4 997.9,735.4 999.2,736.5 997.9,737.9 997.3,739.6 998.3,740.4 1000.0,740.0 1000.4,738.3 1002.1,738.3 1002.5,740.0 1002.9,741.7 1004.6,742.1 1007.5,741.7 1010.4,742.3 1013.3,741.7 1016.7,740.4 1019.2,738.8 1021.2,738.3 1023.3,736.7 1025.8,734.6 1027.9,732.1 1030.0,729.2 1032.1,726.7 1034.2,725.0 1036.2,722.9 1037.9,721.2 1038.3,719.6 1037.5,718.3 1039.2,717.5 1040.4,717.1" />
<path d="M1022.5,825.0 1025.8,825.2 1029.2,824.6 1032.5,824.8 1035.8,826.2 1038.3,827.1 1040.4,826.5" />
<path d="M1024.4,829.3 1025.0,828.3 1026.0,828.1 1026.8,828.8 1026.8,830.0 1026.0,830.6 1025.0,830.4Z" />
<path d="M1038.3,852.1 1037.5,851.2 1035.4,850.2 1032.5,850.8 1030.0,851.2 1027.9,850.7 1026.7,851.7 1025.8,853.8 1025.7,856.2 1026.0,859.2 1025.8,862.1 1025.0,862.5 1024.6,860.0 1024.0,857.9 1022.9,858.8 1022.1,860.8 1020.8,861.2 1020.0,859.6 1019.8,857.5 1018.8,855.7 1016.7,855.0 1013.3,854.8 1010.0,855.0 1007.5,855.4 1005.8,856.7 1004.8,858.8 1004.3,861.2 1004.2,863.3 1003.3,862.9 1002.1,861.7 1000.4,861.2 997.5,861.2 994.2,861.5 990.8,862.1 987.5,862.9 984.6,864.2 982.1,865.8 980.7,867.9 980.0,869.6 978.3,871.2 975.8,872.9 973.8,873.8 971.8,873.3 970.8,872.1 970.7,874.2 970.0,877.5 969.2,880.8 968.3,884.6 967.5,887.5 966.2,890.8" />
<path d="M972.9,866.2 975.0,864.6" style="stroke-width:1.8px"/>
<path d="M977.5,862.5 980.8,861.5" style="stroke-width:1.8px"/>
<path d="M984.2,860.8 987.5,860.4" style="stroke-width:1.8px"/>
<path d="M990.8,860.2 993.3,859.3" style="stroke-width:1.8px"/>
<path d="M998.3,857.9 1000.8,856.7" style="stroke-width:1.8px"/>
<path d="M970.5,870.4 971.0,869.4 971.8,869.3 972.5,870.2 972.3,871.2 971.5,871.7 970.8,871.2Z" />
<path d="M1004.2,863.3 1005.8,864.6 1007.1,865.8 1006.8,869.2 1006.7,872.5 1005.8,875.0 1005.0,877.5 1004.6,880.0 1003.3,881.2 1000.8,881.5 999.3,882.1 999.2,884.2 1000.0,885.7 1002.1,885.8 1004.0,886.2 1004.6,887.9 1004.3,890.8" />
<path d="M980.0,869.6 980.2,872.1 980.8,874.6 982.1,875.7 984.2,875.8 984.6,877.5 983.8,879.6 984.2,881.7 986.2,882.1 987.5,883.3 986.7,885.4 985.0,887.1 983.3,888.8 981.7,889.6 979.2,889.2 976.7,888.3 974.8,887.1 975.0,885.0 975.8,883.3 975.4,881.7 976.7,880.8 978.2,879.6 977.9,877.5 976.7,875.8 975.8,874.2 975.0,873.3" />
<path d="M977.5,886.2 979.6,884.2 982.1,882.7 985.0,882.3 987.1,883.3 986.5,885.4 984.6,887.3 982.5,889.2 980.4,889.0 978.3,887.9Z" />
<g id="volcano"><path style="stroke-width:1.5px" d="M605.0,574.2L608.8,561.8M622.1,574.2L617.9,561.8M608.3,561.8L618.3,561.8M608.9,561.2L606.0,555.0M613.6,561.8L613.6,555.0M618.0,561.2L620.8,555.0"/><path style="stroke-width:2.5px" d="M604.2,573.6L611.0,573.6M616.0,573.6L622.9,573.6"/></g>
</g>
</g>
<rect x="190.5" y="321.5" width="850.0" height="569.0" fill="none" stroke="#000" stroke-width="1.1"/>
<g text-anchor="middle">
<text class="t14" x="314.0" y="309.8">40<tspan dy="1.2">°</tspan><tspan dy="-1.2">W</tspan></text>
<text class="t14" x="314.0" y="911.8">40<tspan dy="1.2">°</tspan><tspan dy="-1.2">W</tspan></text>
<text class="t14" x="461.0" y="309.8">30<tspan dy="1.2">°</tspan><tspan dy="-1.2">W</tspan></text>
<text class="t14" x="461.0" y="911.8">30<tspan dy="1.2">°</tspan><tspan dy="-1.2">W</tspan></text>
<text class="t14" x="608.0" y="309.8">20<tspan dy="1.2">°</tspan><tspan dy="-1.2">W</tspan></text>
<text class="t14" x="608.0" y="911.8">20<tspan dy="1.2">°</tspan><tspan dy="-1.2">W</tspan></text>
<text class="t14" x="754.0" y="309.8">10<tspan dy="1.2">°</tspan><tspan dy="-1.2">W</tspan></text>
<text class="t14" x="754.0" y="911.8">10<tspan dy="1.2">°</tspan><tspan dy="-1.2">W</tspan></text>
<text class="t14" x="901.5" y="309.8">0<tspan dy="1.2">°</tspan></text>
<text class="t14" x="901.5" y="911.8">0<tspan dy="1.2">°</tspan></text>
</g>
<g text-anchor="end">
<text class="t14" x="182.55" y="339.80" style="letter-spacing:-0.3px">70<tspan dy="1.2">°</tspan><tspan dy="-1.2">N</tspan></text>
<text class="t14" x="182.7" y="440.80" style="letter-spacing:-0.13px">67.5<tspan dy="1.2">°</tspan><tspan dy="-1.2">N</tspan></text>
<text class="t14" x="182.55" y="531.80" style="letter-spacing:-0.3px">65<tspan dy="1.2">°</tspan><tspan dy="-1.2">N</tspan></text>
<text class="t14" x="182.7" y="614.80" style="letter-spacing:-0.13px">62.5<tspan dy="1.2">°</tspan><tspan dy="-1.2">N</tspan></text>
<text class="t14" x="182.55" y="690.80" style="letter-spacing:-0.3px">60<tspan dy="1.2">°</tspan><tspan dy="-1.2">N</tspan></text>
<text class="t14" x="182.7" y="761.80" style="letter-spacing:-0.13px">57.5<tspan dy="1.2">°</tspan><tspan dy="-1.2">N</tspan></text>
<text class="t14" x="182.55" y="826.80" style="letter-spacing:-0.3px">55<tspan dy="1.2">°</tspan><tspan dy="-1.2">N</tspan></text>
<text class="t14" x="182.7" y="888.80" style="letter-spacing:-0.13px">52.5<tspan dy="1.2">°</tspan><tspan dy="-1.2">N</tspan></text>
</g>
<g>
<text class="t14" x="1046.9" y="339.80" style="letter-spacing:-0.3px">70<tspan dy="1.2">°</tspan><tspan dy="-1.2">N</tspan></text>
<text class="t14" x="1046.9" y="440.80" style="letter-spacing:-0.15px">67.5<tspan dy="1.2">°</tspan><tspan dy="-1.2">N</tspan></text>
<text class="t14" x="1046.9" y="531.80" style="letter-spacing:-0.3px">65<tspan dy="1.2">°</tspan><tspan dy="-1.2">N</tspan></text>
<text class="t14" x="1046.9" y="614.80" style="letter-spacing:-0.15px">62.5<tspan dy="1.2">°</tspan><tspan dy="-1.2">N</tspan></text>
<text class="t14" x="1046.9" y="690.80" style="letter-spacing:-0.3px">60<tspan dy="1.2">°</tspan><tspan dy="-1.2">N</tspan></text>
<text class="t14" x="1046.9" y="761.80" style="letter-spacing:-0.15px">57.5<tspan dy="1.2">°</tspan><tspan dy="-1.2">N</tspan></text>
<text class="t14" x="1046.9" y="826.80" style="letter-spacing:-0.3px">55<tspan dy="1.2">°</tspan><tspan dy="-1.2">N</tspan></text>
<text class="t14" x="1046.9" y="888.80" style="letter-spacing:-0.15px">52.5<tspan dy="1.2">°</tspan><tspan dy="-1.2">N</tspan></text>
</g>
<text class="t10" x="60" y="975">© Met Office Crown Copyright</text>
</svg>
</body>
</html>
